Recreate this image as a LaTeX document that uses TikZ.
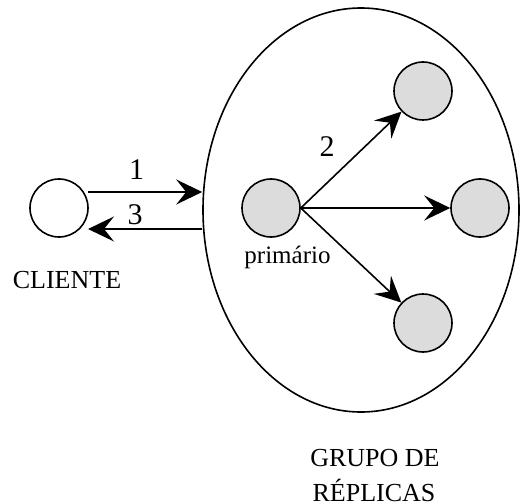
\documentclass[tikz,border=0pt]{standalone}
\usepackage{fontspec}
\setmainfont{Liberation Serif}
\usetikzlibrary{shapes.geometric,arrows.meta,calc}
\definecolor{nodegray}{RGB}{220,220,220}
\begin{document}
\begin{tikzpicture}[x=1bp,y=-1bp,
  proc/.style={circle,draw,line width=1.6bp,minimum size=58bp,inner sep=0pt},
  replica/.style={proc,fill=nodegray},
  msg/.style={line width=1.6bp,-{Stealth[length=26bp,width=25bp,inset=10bp]}},
  lbl/.style={anchor=base,inner sep=0pt,font=\fontsize{26bp}{36bp}\selectfont},
  num/.style={anchor=base,inner sep=0pt,font=\fontsize{30bp}{36bp}\selectfont},
  small/.style={anchor=base,inner sep=0pt,font=\fontsize{25bp}{30bp}\selectfont}]
\useasboundingbox (0,0) rectangle (520,504);
% group ellipse
\node[ellipse,draw,line width=1.6bp,minimum width=316bp,minimum height=404bp,inner sep=0pt] (grp) at (361,210) {};
% client
\node[proc] (cli) at (59,208) {};
% replicas
\node[replica] (prim) at (271,208) {};
\node[replica] (r1) at (423,91) {};
\node[replica] (r2) at (480,208) {};
\node[replica] (r3) at (423,323) {};
% request / reply
\coordinate (a1s) at (88,192);
\coordinate (a3s) at (88,229);
\draw[msg] (a1s) -- (a1s -| grp.west);
\draw[msg] (a3s -| grp.west) -- (a3s);
% propagation
\draw[msg] (prim.east) -- (r1);
\draw[msg] (prim.east) -- (r2);
\draw[msg] (prim.east) -- (r3);
% labels
\node[num] (l1) at (136.5,180) {1};
\node[num] (l3) at (135,224) {3};
\node[num] (l2) at (327,157) {2};
\node[small] (lp) at (287.5,263) {primário};
\node[lbl] (lc) at (67,288) {CLIENTE};
\node[lbl] (lg1) at (375,466) {GRUPO DE};
\node[lbl] (lg2) at (374,501) {RÉPLICAS};
\end{tikzpicture}
\end{document}
